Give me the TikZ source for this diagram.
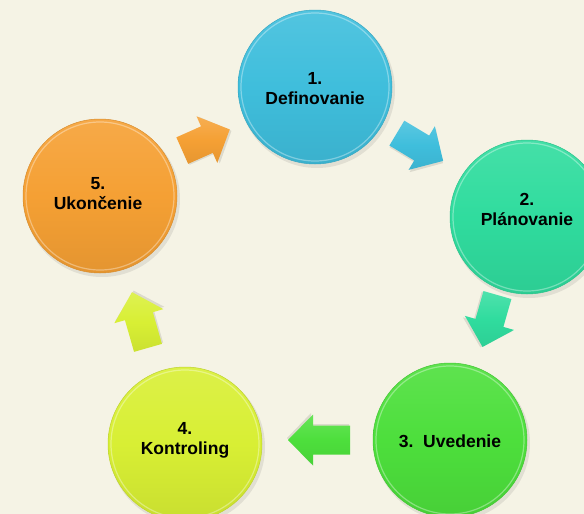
\documentclass[tikz,border=0pt]{standalone}
\usepackage{fontspec}
\setmainfont{Liberation Sans}
\definecolor{bg}{HTML}{F5F3E5}
\definecolor{cA}{HTML}{3FBEDC}
\definecolor{cB}{HTML}{30DC9E}
\definecolor{cC}{HTML}{4DDF3C}
\definecolor{cD}{HTML}{D8EF34}
\definecolor{cE}{HTML}{F5A034}
\newcommand{\blockarr}[5]{%
  \begin{scope}[shift={(#1,#2)},rotate=#3]
    \fill[black,opacity=0.10] (-#4/2+1,-13) -- (#4/2-24+1,-13) -- (#4/2-24+1,-24) -- (#4/2+1,2) -- (#4/2-24+1,27) -- (#4/2-24+1,16) -- (-#4/2+1,16) -- cycle;
    \shade[top color=#5!85!white, bottom color=#5!94!black, middle color=#5]
      (-#4/2,-14.5) -- (#4/2-25,-14.5) -- (#4/2-25,-25.5) -- (#4/2,0) -- (#4/2-25,25.5) -- (#4/2-25,14.5) -- (-#4/2,14.5) -- cycle;
  \end{scope}}
\begin{document}
\begin{tikzpicture}[x=1pt,y=-1pt,
  phase/.style={circle, minimum size=154pt, inner sep=0pt,
    top color=#1!90!white, bottom color=#1!93!black, middle color=#1,
    draw=#1!88!black, line width=0.5pt},
  rim/.style={draw=white, opacity=0.35, line width=1.2pt},
  lbl/.style={font=\bfseries\fontsize{17.5}{20}\selectfont, align=center, text=black, inner sep=0pt}]
\useasboundingbox (0,0) rectangle (584,514);
\fill[bg] (0,0) rectangle (584,514);
\clip (0,0) rectangle (584,514);
% shadows
\foreach \cx/\cy in {315/87, 527/217, 450/440, 185/444, 100/196}
  \fill[black,opacity=0.08] (\cx+2,\cy+3) circle (78);
% circles
\node[phase=cA] (p1) at (315,87) {};
\node[phase=cB] (p2) at (527,217) {};
\node[phase=cC] (p3) at (450,440) {};
\node[phase=cD] (p4) at (185,444) {};
\node[phase=cE] (p5) at (100,196) {};
\foreach \cx/\cy in {315/87, 527/217, 450/440, 185/444, 100/196}
  \draw[rim] (\cx,\cy) circle (74);
% labels
\node[lbl] (t1) at (315,89) {1.\\Definovanie};
\node[lbl] (t2) at (527,209) {2.\\Plánovanie};
\node[lbl] (t3) at (450,441) {3.\ \ Uvedenie};
\node[lbl] (t4) at (185,440) {4.\\Kontroling};
\node[lbl] (t5) at (98,194) {5.\\Ukončenie};
% arrows
\blockarr{206}{140}{24}{52}{cE}
\blockarr{420}{147}{-31}{54}{cA}
\blockarr{490}{321}{-106}{54}{cB}
\blockarr{319}{440}{180}{62}{cC}
\blockarr{140}{320}{106}{58}{cD}
\end{tikzpicture}
\end{document}
